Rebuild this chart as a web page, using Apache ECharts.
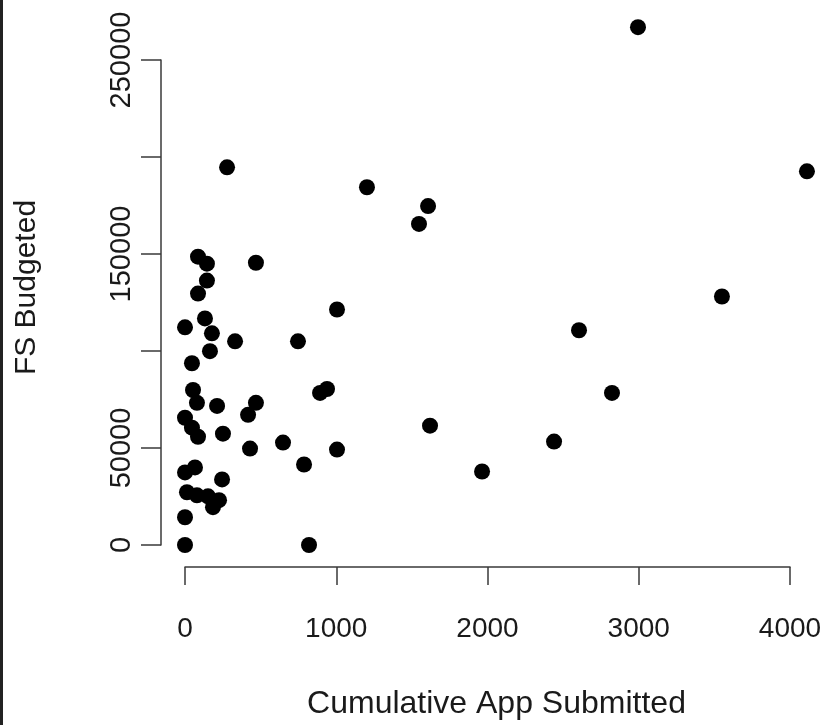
<!DOCTYPE html>
<html>
<head>
<meta charset="utf-8">
<script src="https://cdn.jsdelivr.net/npm/echarts@6/dist/echarts.min.js"></script>
<style>
  html, body { margin: 0; padding: 0; background: #ffffff; }
  #chart { width: 828px; height: 725px; position: relative; }
  #strip { position: absolute; left: 0; top: 0; width: 3px; height: 725px; background: #222222; z-index: 10; }
</style>
</head>
<body>
<div id="strip"></div>
<div id="chart"></div>
<script>
// Cumulative App Submitted (x) and FS Budgeted (y)
const appSubmitted = [
  2995, 4112, 278, 1203, 1607, 1547, 86, 145, 469, 145,
  86, 3550, 1005, 132, 0, 2605, 178, 331, 747, 165,
  46, 53, 893, 939, 2823, 79, 469, 212, 417, 0,
  46, 86, 251, 430, 1620, 648, 1005, 2440, 787, 1964,
  820, 0, 66, 245, 13, 79, 152, 225, 185, 0,
  0
];
const fsBudgeted = [
  266900, 192600, 194700, 184400, 174700, 165500, 148600, 145000, 145500, 136300,
  129600, 128100, 121400, 116800, 112200, 110700, 109100, 105000, 105000, 99900,
  93700, 79900, 78400, 80400, 78400, 73300, 73300, 71700, 67100, 65600,
  60500, 55800, 57400, 49700, 61500, 52800, 49200, 53300, 41500, 37900,
  0, 37400, 40000, 33800, 27200, 25600, 25100, 23100, 19500, 14300,
  0
];
const xTickValues = [0, 1000, 2000, 3000, 4000];
const yTickValues = [0, 50000, 100000, 150000, 200000, 250000];
const yTickLabelsShown = [0, 50000, 150000, 250000];
const xTitle = 'Cumulative App Submitted';
const yTitle = 'FS Budgeted';

const points = appSubmitted.map((x, i) => [x, fsBudgeted[i]]);

const chart = echarts.init(document.getElementById('chart'), null, { renderer: 'canvas' });
const axisColor = '#3a3a3a';
const textColor = '#1a1a1a';
const fontFamily = '"Liberation Sans", Arial, Helvetica, sans-serif';

chart.setOption({
  animation: false,
  backgroundColor: '#ffffff',
  grid: { left: 185, right: 38, top: 60, bottom: 174, containLabel: false },
  xAxis: {
    type: 'value',
    min: xTickValues[0],
    max: xTickValues[xTickValues.length - 1],
    interval: 1000,
    offset: 22,
    name: xTitle,
    nameLocation: 'middle',
    nameGap: 121,
    nameTextStyle: { color: textColor, fontSize: 32, fontFamily: fontFamily, padding: [0, 0, 0, 18] },
    axisLine: { show: true, onZero: false, lineStyle: { color: axisColor, width: 1.5 } },
    axisTick: { show: true, length: 18, lineStyle: { color: axisColor, width: 1.5 } },
    axisLabel: { color: textColor, fontSize: 28, fontFamily: fontFamily, margin: 48, formatter: v => String(v) },
    splitLine: { show: false }
  },
  yAxis: {
    type: 'value',
    min: yTickValues[0],
    max: yTickValues[yTickValues.length - 1],
    interval: 50000,
    offset: 24,
    name: yTitle,
    nameLocation: 'middle',
    nameRotate: 90,
    nameGap: 119,
    nameTextStyle: { color: textColor, fontSize: 30, fontFamily: fontFamily, padding: [0, 0, 0, 30] },
    axisLine: { show: true, onZero: false, lineStyle: { color: axisColor, width: 1.5 } },
    axisTick: { show: true, length: 20, lineStyle: { color: axisColor, width: 1.5 } },
    axisLabel: {
      color: textColor, fontSize: 29, fontFamily: fontFamily, margin: 25,
      rotate: 90, align: 'center', verticalAlign: 'bottom',
      formatter: v => (yTickLabelsShown.indexOf(v) >= 0 ? String(v) : '')
    },
    splitLine: { show: false }
  },
  series: [{
    type: 'scatter',
    data: points,
    symbol: 'circle',
    symbolSize: 16,
    clip: false,
    itemStyle: { color: '#000000', opacity: 1 }
  }]
});
</script>
</body>
</html>
